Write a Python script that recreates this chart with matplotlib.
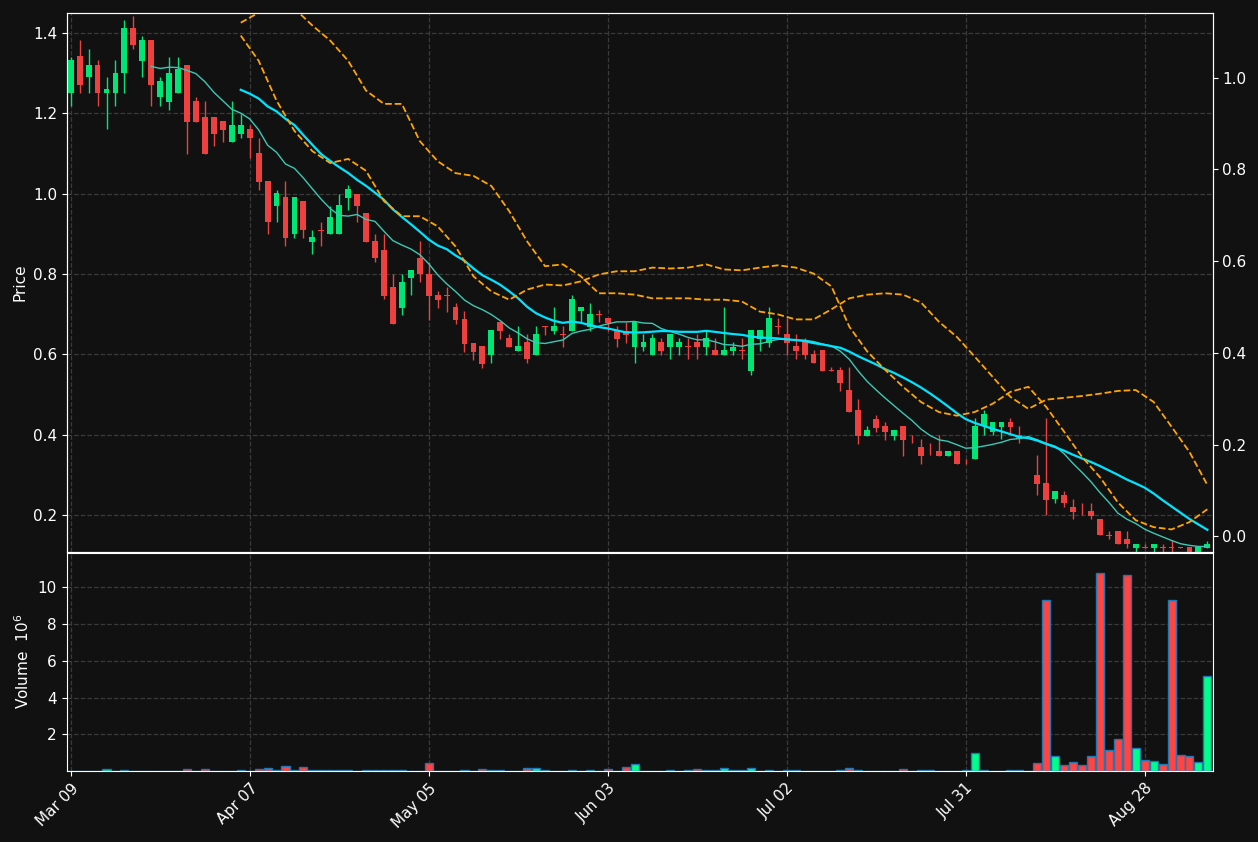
import matplotlib
matplotlib.use("Agg")
import matplotlib.pyplot as plt
import numpy as np
import pandas as pd

# OHLC per trading day (index 0 = Mar 09)
opens = [1.249,1.341,1.289,1.321,1.249,1.249,1.299,1.411,1.329,1.381,
         1.239,1.229,1.249,1.321,1.231,1.191,1.191,1.181,1.129,1.149,
         1.161,1.101,1.031,0.969,0.991,0.899,0.981,0.879,0.910,0.899,
         0.899,0.989,1.000,0.951,0.881,0.861,0.769,0.716,0.789,0.841,
         0.801,0.749,0.748,0.719,0.687,0.629,0.620,0.599,0.680,0.640,
         0.609,0.630,0.599,0.670,0.658,0.651,0.658,0.708,0.668,0.701,
         0.690,0.660,0.658,0.619,0.619,0.599,0.630,0.619,0.619,0.620,
         0.630,0.619,0.611,0.599,0.609,0.610,0.560,0.639,0.629,0.671,
         0.650,0.621,0.630,0.602,0.611,0.561,0.561,0.511,0.461,0.398,
         0.440,0.421,0.398,0.421,0.381,0.371,0.371,0.361,0.348,0.361,
         0.331,0.339,0.421,0.408,0.419,0.431,0.400,0.401,0.301,0.281,
         0.240,0.250,0.221,0.212,0.211,0.191,0.151,0.161,0.141,0.119,
         0.122,0.119,0.121,0.121,0.121,0.121,0.109,0.118]
highs = [1.339,1.381,1.360,1.331,1.291,1.331,1.431,1.441,1.391,1.381,
         1.291,1.339,1.339,1.321,1.241,1.231,1.191,1.181,1.231,1.199,
         1.171,1.139,1.031,1.009,1.031,0.991,0.981,0.909,0.929,0.969,
         1.000,1.021,1.000,0.951,0.899,0.899,0.799,0.799,0.811,0.881,
         0.829,0.757,0.767,0.727,0.707,0.629,0.620,0.660,0.680,0.650,
         0.670,0.650,0.670,0.670,0.719,0.670,0.749,0.719,0.729,0.710,
         0.690,0.670,0.680,0.680,0.650,0.650,0.640,0.650,0.640,0.640,
         0.650,0.660,0.640,0.719,0.630,0.640,0.660,0.660,0.719,0.690,
         0.690,0.650,0.640,0.610,0.611,0.570,0.570,0.570,0.490,0.421,
         0.450,0.431,0.411,0.421,0.400,0.390,0.380,0.400,0.361,0.361,
         0.340,0.442,0.462,0.431,0.431,0.441,0.421,0.401,0.350,0.441,
         0.261,0.260,0.240,0.230,0.230,0.191,0.160,0.161,0.160,0.130,
         0.130,0.130,0.130,0.139,0.121,0.121,0.121,0.135]
lows = [1.218,1.249,1.249,1.218,1.160,1.218,1.249,1.360,1.289,1.218,
        1.218,1.209,1.249,1.099,1.179,1.099,1.119,1.129,1.129,1.139,
        1.089,1.009,0.899,0.929,0.869,0.889,0.889,0.849,0.869,0.899,
        0.899,0.959,0.929,0.879,0.829,0.737,0.676,0.697,0.747,0.779,
        0.686,0.716,0.706,0.676,0.606,0.586,0.566,0.579,0.639,0.619,
        0.609,0.579,0.599,0.649,0.650,0.619,0.658,0.680,0.658,0.680,
        0.658,0.619,0.629,0.579,0.609,0.599,0.599,0.589,0.599,0.589,
        0.589,0.599,0.599,0.599,0.599,0.589,0.550,0.609,0.619,0.650,
        0.599,0.589,0.589,0.578,0.559,0.559,0.510,0.458,0.378,0.398,
        0.408,0.388,0.388,0.348,0.380,0.328,0.350,0.348,0.348,0.328,
        0.328,0.339,0.400,0.400,0.390,0.400,0.380,0.399,0.250,0.200,
        0.230,0.220,0.190,0.200,0.190,0.150,0.140,0.130,0.120,0.110,
        0.120,0.110,0.110,0.110,0.119,0.109,0.109,0.118]
closes = [1.331,1.269,1.321,1.249,1.261,1.301,1.411,1.369,1.381,1.269,
          1.281,1.301,1.311,1.179,1.179,1.099,1.149,1.159,1.171,1.171,
          1.139,1.029,0.929,1.001,0.889,0.991,0.909,0.891,0.908,0.941,
          0.971,1.011,0.969,0.879,0.839,0.746,0.676,0.781,0.811,0.799,
          0.746,0.736,0.746,0.686,0.626,0.606,0.577,0.660,0.658,0.619,
          0.621,0.589,0.650,0.668,0.670,0.649,0.739,0.719,0.700,0.699,
          0.678,0.639,0.649,0.680,0.630,0.640,0.609,0.650,0.630,0.618,
          0.619,0.640,0.599,0.611,0.619,0.608,0.660,0.660,0.690,0.669,
          0.629,0.609,0.599,0.578,0.559,0.559,0.528,0.458,0.398,0.411,
          0.418,0.408,0.411,0.388,0.379,0.348,0.369,0.348,0.361,0.328,
          0.329,0.421,0.451,0.431,0.431,0.419,0.390,0.399,0.279,0.239,
          0.261,0.230,0.209,0.210,0.199,0.150,0.149,0.130,0.129,0.130,
          0.120,0.130,0.119,0.119,0.119,0.109,0.121,0.130]
# volume in millions
volumes = [0.0,0.02,0.0,0.0,0.13,0.0,0.03,0.0,0.02,0.02,
           0.0,0.0,0.0,0.11,0.0,0.11,0.0,0.0,0.0,0.04,
           0.0,0.10,0.19,0.03,0.27,0.03,0.20,0.03,0.03,0.03,
           0.03,0.03,0.0,0.03,0.03,0.03,0.03,0.03,0.0,0.0,
           0.45,0.0,0.0,0.0,0.03,0.0,0.13,0.03,0.03,0.0,
           0.0,0.19,0.19,0.03,0.0,0.0,0.03,0.0,0.03,0.0,
           0.12,0.0,0.24,0.36,0.0,0.0,0.0,0.03,0.0,0.03,
           0.11,0.03,0.03,0.16,0.03,0.03,0.16,0.0,0.03,0.0,
           0.03,0.03,0.0,0.0,0.0,0.0,0.03,0.16,0.03,0.0,
           0.0,0.0,0.0,0.11,0.0,0.03,0.03,0.0,0.0,0.0,
           0.03,0.97,0.03,0.0,0.0,0.03,0.03,0.0,0.42,9.34,
           0.80,0.33,0.48,0.33,0.80,10.8,1.17,1.74,10.7,1.25,
           0.59,0.53,0.37,9.34,0.86,0.80,0.48,5.20]

# orange band lines (secondary axis), sampled every 2 bars from bar 19
band_idx = list(range(19, 128, 2))
band_upper = [1.120,1.142,1.158,1.151,1.114,1.081,1.037,0.972,0.943,0.943,
              0.862,0.818,0.792,0.786,0.764,0.709,0.643,0.589,0.593,0.567,
              0.530,0.530,0.527,0.519,0.519,0.519,0.516,0.516,0.512,0.490,
              0.484,0.473,0.473,0.495,0.519,0.527,0.530,0.527,0.510,0.468,
              0.435,0.392,0.348,0.304,0.278,0.298,0.302,0.306,0.311,0.317,
              0.319,0.293,0.239,0.184,0.112]
band_lower = [1.092,1.037,0.950,0.884,0.840,0.814,0.823,0.797,0.731,0.698,
              0.698,0.676,0.632,0.567,0.534,0.516,0.538,0.549,0.547,0.556,
              0.571,0.578,0.578,0.586,0.584,0.586,0.593,0.582,0.580,0.586,
              0.591,0.586,0.573,0.545,0.457,0.403,0.363,0.326,0.293,0.271,
              0.263,0.271,0.289,0.315,0.326,0.282,0.228,0.173,0.129,0.074,
              0.035,0.020,0.015,0.031,0.059]

tick_pos = [0, 20, 40, 60, 80, 100, 120]
tick_labels = ["Mar 09", "Apr 07", "May 05", "Jun 03", "Jul 02", "Jul 31", "Aug 28"]

bg = "#111111"
up_c = "#00e676"
down_c = "#ef4040"

fig = plt.figure(figsize=(12.58, 8.42), dpi=100, facecolor=bg)
ax = fig.add_axes([0.053, 0.344, 0.911, 0.641], facecolor=bg)
axv = fig.add_axes([0.053, 0.0843, 0.911, 0.2595], facecolor=bg, sharex=ax)
ax2 = ax.twinx()

x = np.arange(len(closes))
o = np.array(opens); c = np.array(closes)
h = np.array(highs); l = np.array(lows)
cols = [up_c if cc >= oo else down_c for oo, cc in zip(o, c)]

ax.vlines(x, l, h, colors=cols, linewidth=1, zorder=3)
body = np.maximum(np.abs(c - o), 0.002)
ax.bar(x, body, bottom=np.minimum(o, c), width=0.65, color=cols, zorder=4)

s = pd.Series(closes)
ax.plot(x, s.rolling(10).mean(), color="#3cc8b4", lw=1, zorder=5)
ax.plot(x, s.rolling(20).mean(), color="#00e5ff", lw=1.6, zorder=5)

ax2.plot(band_idx, band_upper, color="orange", lw=1.3, ls="--")
ax2.plot(band_idx, band_lower, color="orange", lw=1.3, ls="--")
ax2.set_ylim(-0.035, 1.142)
ax2.set_yticks([0.0, 0.2, 0.4, 0.6, 0.8, 1.0])

ax.set_ylim(0.108, 1.45)
ax.set_yticks([0.2, 0.4, 0.6, 0.8, 1.0, 1.2, 1.4])
ax.set_xlim(-0.45, 127.6)
ax.set_ylabel("Price", color="white", fontsize=11)

vcols = ["#00ff88" if cc >= oo else "#ff4444" for oo, cc in zip(o, c)]
axv.bar(x, volumes, width=0.9, color=vcols, edgecolor="#1f77b4", linewidth=1)
axv.set_ylim(0, 11.9)
axv.set_yticks([2, 4, 6, 8, 10])
axv.set_ylabel("Volume  $10^6$", color="white", fontsize=11)
axv.set_xticks(tick_pos)
axv.set_xticklabels(tick_labels, rotation=45, ha="right", rotation_mode="anchor")
plt.setp(ax.get_xticklabels(), visible=False)

for a in (ax, axv, ax2):
    a.tick_params(colors="white", labelsize=11)
    for sp in a.spines.values():
        sp.set_color("white")
for a in (ax, axv):
    a.grid(True, color="#3a3a3a", ls="--", lw=0.9)
    a.set_axisbelow(True)

fig.savefig("out.png", facecolor=bg)
